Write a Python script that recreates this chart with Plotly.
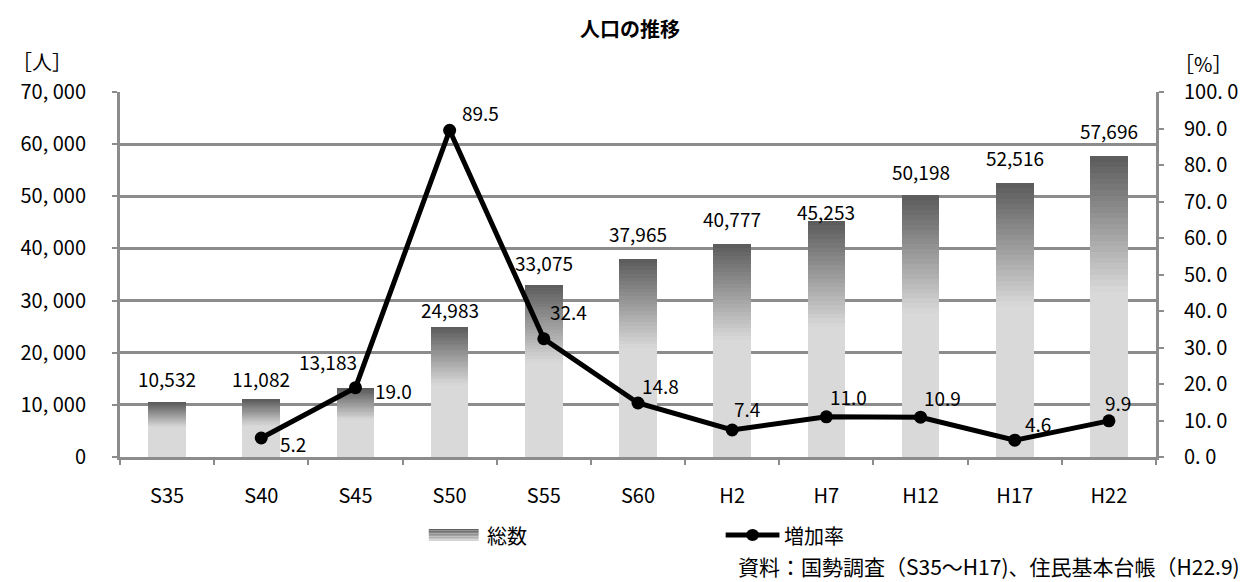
import plotly.graph_objects as go

categories = ["S35", "S40", "S45", "S50", "S55", "S60", "H2", "H7", "H12", "H17", "H22"]
population = [10532, 11082, 13183, 24983, 33075, 37965, 40777, 45253, 50198, 52516, 57696]
rate_categories = ["S40", "S45", "S50", "S55", "S60", "H2", "H7", "H12", "H17", "H22"]
rate_values = [5.2, 19.0, 89.5, 32.4, 14.8, 7.4, 11.0, 10.9, 4.6, 9.9]
left_ticks = [0, 10000, 20000, 30000, 40000, 50000, 60000, 70000]
left_ticktext = ["0", "10, 000", "20, 000", "30, 000", "40, 000", "50, 000", "60, 000", "70, 000"]
right_ticks = [0, 10, 20, 30, 40, 50, 60, 70, 80, 90, 100]
right_ticktext = ["0. 0", "10. 0", "20. 0", "30. 0", "40. 0", "50. 0", "60. 0", "70. 0", "80. 0", "90. 0", "100. 0"]

FONT = "Noto Sans CJK JP"
GRID = "#8c8c8c"

# label offsets (styles)
bar_label_yshift = [24, 21, 27, 17, 22, 26, 26, 10, 24, 26, 26]
bar_label_xshift = [0, 0, -27, 0, 0, 0, 0, 0, 0, 0, 0]
rate_label_shift = [(32, -5), (38, -3), (31, 18), (25, 27), (22, 17), (15, 21),
                    (22, 20), (22, 20), (23, 17), (9, 18)]

def mix(c1, c2, t):
    return "rgb(%d,%d,%d)" % tuple(round(a + (b - a) * t) for a, b in zip(c1, c2))

LIGHT = (217, 217, 217)
DARK = (90, 90, 90)
N = 24
GRAD_FRAC = 0.45

fig = go.Figure()
# light lower portion
fig.add_trace(go.Bar(x=categories, y=[v * (1 - GRAD_FRAC) for v in population],
                     marker=dict(color=mix(LIGHT, LIGHT, 0), line=dict(width=0)),
                     width=0.4, showlegend=False, hoverinfo="skip"))
for i in range(N):
    fig.add_trace(go.Bar(x=categories, y=[v * GRAD_FRAC / N for v in population],
                         marker=dict(color=mix(LIGHT, DARK, (i + 0.5) / N), line=dict(width=0)),
                         width=0.4, showlegend=False, hoverinfo="skip"))

fig.add_trace(go.Scatter(x=rate_categories, y=rate_values, yaxis="y2", mode="lines+markers",
                         line=dict(color="black", width=5), marker=dict(color="black", size=13),
                         showlegend=False, hoverinfo="skip"))

annotations = []
for i, (c, v) in enumerate(zip(categories, population)):
    annotations.append(dict(x=c, y=v, xref="x", yref="y", text=f"{v:,}", showarrow=False,
                            yanchor="middle", xanchor="center", yshift=bar_label_yshift[i],
                            xshift=bar_label_xshift[i], font=dict(family=FONT, size=19, color="black")))
for (c, v), (dx, dy) in zip(zip(rate_categories, rate_values), rate_label_shift):
    annotations.append(dict(x=c, y=v, xref="x", yref="y2", text=f"{v:.1f}", showarrow=False,
                            yanchor="middle", xanchor="center", xshift=dx, yshift=dy,
                            font=dict(family=FONT, size=19, color="black")))

def px(xp):
    return (xp - 120) / 1040

def py(yp):
    return (457 - yp) / 365

annotations += [
    dict(x=px(632), y=py(28), xref="paper", yref="paper", text="<b>人口の推移</b>", showarrow=False,
         xanchor="center", yanchor="middle", font=dict(family=FONT, size=20, color="black")),
    dict(x=px(42), y=py(62), xref="paper", yref="paper", text="［人］", showarrow=False,
         xanchor="center", yanchor="middle", font=dict(family=FONT, size=20, color="black")),
    dict(x=px(1207), y=py(63), xref="paper", yref="paper", text="［%］", showarrow=False,
         xanchor="center", yanchor="middle", font=dict(family=FONT, size=20, color="black")),
    dict(x=px(486), y=py(535), xref="paper", yref="paper", text="総数", showarrow=False,
         xanchor="left", yanchor="middle", font=dict(family=FONT, size=20, color="black")),
    dict(x=px(785), y=py(535), xref="paper", yref="paper", text="増加率", showarrow=False,
         xanchor="left", yanchor="middle", font=dict(family=FONT, size=20, color="black")),
    dict(x=px(1246), y=py(566), xref="paper", yref="paper",
         text="資料：国勢調査（S35～H17)、住民基本台帳（H22.9)", showarrow=False,
         xanchor="right", yanchor="middle", font=dict(family=FONT, size=21, color="black")),
]

shapes = []
# legend swatch for bars (vertical gradient)
S = 8
top, bot = 529, 541
for i in range(S):
    y0 = top + (bot - top) * i / S
    y1 = top + (bot - top) * (i + 1) / S
    shapes.append(dict(type="rect", xref="paper", yref="paper", x0=px(430), x1=px(480),
                       y0=py(y1), y1=py(y0), line=dict(width=0),
                       fillcolor=mix(DARK, LIGHT, (i + 0.5) / S)))
shapes.append(dict(type="line", xref="paper", yref="paper", x0=px(728), x1=px(782),
                   y0=py(535), y1=py(535), line=dict(color="black", width=5)))
shapes.append(dict(type="circle", xref="paper", yref="paper", xsizemode="pixel", ysizemode="pixel",
                   xanchor=px(755), yanchor=py(535), x0=-6.5, x1=6.5, y0=-6, y1=6,
                   fillcolor="black", line=dict(width=0)))

fig.update_layout(
    width=1250, height=582,
    margin=dict(l=120, r=90, t=92, b=125),
    paper_bgcolor="white", plot_bgcolor="white",
    barmode="stack", bargap=0.6,
    showlegend=False,
    font=dict(family=FONT, size=20, color="black"),
    xaxis=dict(type="category", categoryorder="array", categoryarray=categories,
               range=[-0.5, 10.5], showline=True, linecolor=GRID, linewidth=3,
               ticks="outside", tickson="boundaries", ticklen=5, tickwidth=2, tickcolor=GRID,
               tickfont=dict(family=FONT, size=20), ticklabelstandoff=19, showgrid=False),
    yaxis=dict(range=[0, 70000], tickvals=left_ticks, ticktext=left_ticktext,
               showgrid=True, gridcolor=GRID, gridwidth=3, zeroline=False,
               showline=True, linecolor=GRID, linewidth=3, ticks="outside", ticklen=5,
               tickwidth=2, tickcolor=GRID, tickfont=dict(family=FONT, size=20),
               ticklabelstandoff=22),
    yaxis2=dict(range=[0, 100], tickvals=right_ticks, ticktext=right_ticktext, overlaying="y",
                side="right", showgrid=False, zeroline=False, showline=True, linecolor=GRID,
                linewidth=3, ticks="outside", ticklen=5, tickwidth=2, tickcolor=GRID,
                tickfont=dict(family=FONT, size=20), ticklabelstandoff=16),
    annotations=annotations,
    shapes=shapes,
)

fig.write_html("out.html")
